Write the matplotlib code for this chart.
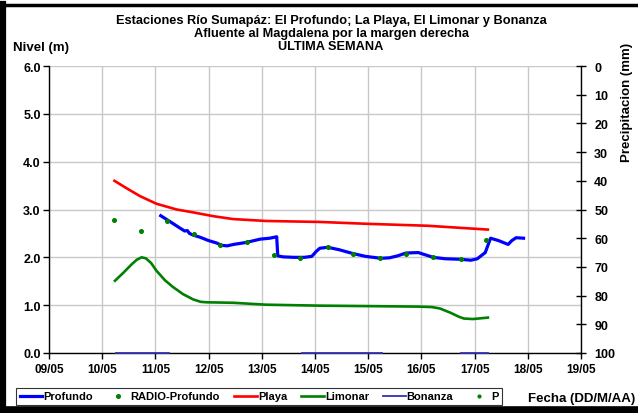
import matplotlib
matplotlib.use("Agg")
import matplotlib.pyplot as plt
from matplotlib.lines import Line2D
import numpy as np

plt.rcParams['font.family'] = ['Liberation Sans', 'DejaVu Sans']
plt.rcParams['font.weight'] = 'bold'

# --- datos (dia del mes de mayo, fraccion de dia) ---
t_profundo = [11.10, 11.20, 11.34, 11.45, 11.55, 11.60, 11.64, 11.72, 11.84, 12.00, 12.15,
              12.25, 12.35, 12.47, 12.70, 12.97, 13.15, 13.28, 13.30, 13.40, 13.60, 13.80,
              13.94, 14.02, 14.09, 14.24, 14.45, 14.71, 14.95, 15.24, 15.40, 15.55, 15.71,
              15.94, 16.08, 16.22, 16.45, 16.72, 16.93, 17.05, 17.20, 17.30, 17.45, 17.63,
              17.70, 17.78, 17.92]
profundo = [2.87, 2.80, 2.70, 2.62, 2.55, 2.56, 2.50, 2.46, 2.42, 2.35, 2.30,
            2.25, 2.24, 2.27, 2.31, 2.38, 2.40, 2.43, 2.03, 2.01, 2.00, 2.00,
            2.02, 2.12, 2.19, 2.21, 2.16, 2.08, 2.02, 1.98, 1.99, 2.03, 2.09,
            2.10, 2.05, 2.00, 1.97, 1.96, 1.94, 1.97, 2.10, 2.40, 2.35, 2.27,
            2.35, 2.41, 2.40]

t_radio = [10.22, 10.72, 11.22, 11.72, 12.22, 12.72, 13.22, 13.72, 14.24, 14.71, 15.22,
           15.71, 16.22, 16.74, 17.22]
radio = [2.78, 2.55, 2.75, 2.49, 2.25, 2.33, 2.04, 1.99, 2.21, 2.08, 1.98,
         2.08, 2.00, 1.96, 2.37]

t_playa = [10.23, 10.45, 10.71, 11.02, 11.40, 11.71, 12.09, 12.46, 13.08, 14.08, 15.00,
           16.12, 17.25]
playa = [3.60, 3.45, 3.28, 3.12, 3.00, 2.94, 2.86, 2.80, 2.76, 2.74, 2.70,
         2.66, 2.58]

t_limonar = [10.24, 10.40, 10.55, 10.65, 10.74, 10.82, 10.92, 11.02, 11.18, 11.33, 11.52,
             11.71, 11.85, 11.96, 12.46, 13.08, 14.08, 15.00, 15.94, 16.20, 16.35, 16.55,
             16.70, 16.80, 16.97, 17.25]
limonar = [1.51, 1.68, 1.85, 1.95, 2.00, 1.98, 1.88, 1.72, 1.52, 1.38, 1.23,
           1.12, 1.07, 1.06, 1.05, 1.01, 0.99, 0.98, 0.97, 0.96, 0.93, 0.84,
           0.76, 0.72, 0.71, 0.74]

t_bonanza = [10.25, 11.25, 11.26, 13.74, 13.75, 15.25, 15.26, 16.74, 16.75, 17.25]
bonanza = [0.0, 0.0, None, None, 0.0, 0.0, None, None, 0.0, 0.0]

t_p = []
p = []

dias = list(range(9, 20))
etiquetas_dias = [f"{d:02d}/05" for d in dias]
niveles = [0, 1, 2, 3, 4, 5, 6]
lluvias = [0, 10, 20, 30, 40, 50, 60, 70, 80, 90, 100]

W, H = 638, 414
fig = plt.figure(figsize=(W / 100, H / 100), dpi=100)
ax = fig.add_axes([49 / W, 1 - 354 / H, (581 - 49) / W, (354 - 67) / H])
ax2 = ax.twinx()

bon = np.array([np.nan if v is None else v for v in bonanza])

l1, = ax.plot(t_profundo, profundo, color='#0000FF', lw=2.3, zorder=3)
l2, = ax.plot(t_radio, radio, ls='none', marker='o', ms=2.6, color='#008000', zorder=4)
l3, = ax.plot(t_playa, playa, color='#FF0000', lw=1.9, zorder=3)
l4, = ax.plot(t_limonar, limonar, color='#008000', lw=1.9, zorder=3)
l5, = ax.plot(t_bonanza, bon, color='#3333B3', lw=1.3, zorder=3, clip_on=False)
l6, = ax2.plot(t_p, p, ls='none', marker='o', ms=2.0, color='#008000')

ax.set_xlim(9, 19)
ax.set_ylim(0, 6)
ax.set_xticks(dias)
ax.set_xticklabels(etiquetas_dias)
ax.set_yticks(niveles)
ax.set_yticklabels([f"{v:.1f}" for v in niveles])
ax.grid(True, color='#C8C8C8', lw=1.0)
ax.set_axisbelow(True)

ax2.set_ylim(100, 0)
ax2.set_yticks(lluvias)
ax2.set_yticklabels([str(v) for v in lluvias])

for a in (ax, ax2):
    a.spines['top'].set_visible(False)
    for s in a.spines.values():
        s.set_linewidth(1.0)
ax.spines['right'].set_visible(False)
ax2.spines['left'].set_visible(False)
ax2.spines['bottom'].set_visible(False)

ax.tick_params(axis='x', labelsize=8.5, length=4, width=1, pad=3)
ax.tick_params(axis='y', labelsize=9, length=4, width=1, pad=2)
ax2.tick_params(axis='y', labelsize=9, length=7, width=1, direction='inout', pad=6)
for lab in ax.get_xticklabels() + ax.get_yticklabels() + ax2.get_yticklabels():
    lab.set_fontweight('bold')

# titulos y rotulos
cx = 331 / W
fig.text(cx, 1 - 21 / H, "Estaciones Río Sumapáz: El Profundo; La Playa, El Limonar y Bonanza",
         ha='center', va='center', fontsize=9.2, fontweight='bold')
fig.text(cx, 1 - 34 / H, "Afluente al Magdalena por la margen derecha",
         ha='center', va='center', fontsize=9.2, fontweight='bold')
fig.text(cx, 1 - 47 / H, "ULTIMA SEMANA",
         ha='center', va='center', fontsize=9.2, fontweight='bold')
fig.text(13 / W, 1 - 48 / H, "Nivel (m)", ha='left', va='center', fontsize=9.5, fontweight='bold')
fig.text(627 / W, 1 - 102 / H, "Precipitacion (mm)", ha='center', va='center',
         rotation=90, fontsize=9.5, fontweight='bold')
fig.text(635 / W, 1 - 399 / H, "Fecha (DD/M/AA)", ha='right', va='center',
         fontsize=9.5, fontweight='bold')

leg = fig.legend([l1, l2, l3, l4, l5, l6],
                 ["Profundo", "RADIO-Profundo", "Playa", "Limonar", "Bonanza", "P"],
                 loc='center left', bbox_to_anchor=(16 / W, 1 - 397.5 / H),
                 ncol=6, fontsize=8, frameon=True, fancybox=False,
                 handlelength=2.0, handletextpad=0.1, columnspacing=1.3,
                 borderpad=0.35, borderaxespad=0)
leg.get_frame().set_edgecolor('black')
leg.get_frame().set_linewidth(0.8)
for txt in leg.get_texts():
    txt.set_fontweight('bold')

# marco negro exterior
fig.add_artist(Line2D([3 / W, 3 / W], [0, 1 - 5 / H], color='black', lw=4.5,
                      transform=fig.transFigure))
fig.add_artist(Line2D([0, 1], [1 - 5.5 / H, 1 - 5.5 / H], color='black', lw=2.5,
                      transform=fig.transFigure))
fig.add_artist(Line2D([0, 1], [3.5 / H, 3.5 / H], color='black', lw=5.5,
                      transform=fig.transFigure))

fig.savefig("out.png", dpi=100)
